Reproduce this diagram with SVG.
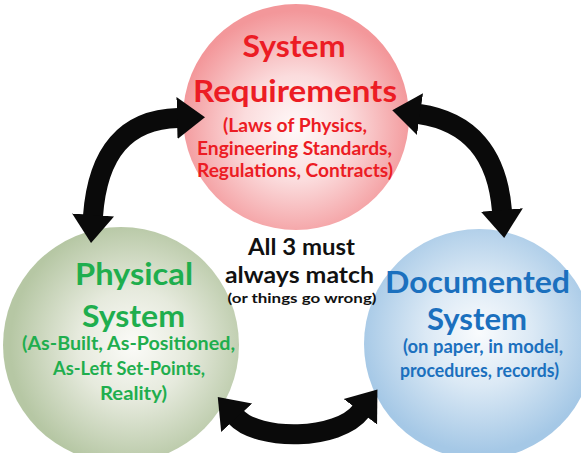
<svg xmlns="http://www.w3.org/2000/svg" width="581" height="453" viewBox="0 0 581 453">
<defs>
<radialGradient id="gRed" cx="50%" cy="55%" r="52%">
<stop offset="0" stop-color="#fefafa"/>
<stop offset="0.45" stop-color="#fbdcdd"/>
<stop offset="1" stop-color="#f3979a"/>
</radialGradient>
<radialGradient id="gGreen" cx="55%" cy="50%" r="52%">
<stop offset="0" stop-color="#fbfbf8"/>
<stop offset="0.45" stop-color="#e6eadd"/>
<stop offset="1" stop-color="#b6c7a4"/>
</radialGradient>
<radialGradient id="gBlue" cx="50%" cy="45%" r="52%">
<stop offset="0" stop-color="#f9fbfd"/>
<stop offset="0.45" stop-color="#dbe9f5"/>
<stop offset="1" stop-color="#a5c8e6"/>
</radialGradient>
<marker id="head" markerUnits="userSpaceOnUse" markerWidth="30" markerHeight="44" refX="1" refY="22" orient="auto-start-reverse" viewBox="0 0 30 44">
<path d="M0,1 L28,22 L0,43 Z" fill="#0a0a0a"/>
</marker>
</defs>
<style>
text{font-family:Lato,"Open Sans","Liberation Sans",sans-serif;font-weight:700;text-anchor:middle}
.t{font-size:31px}
.s{font-size:18px}
.red{fill:#ec1c24}
.grn{fill:#1fae4e}
.blu{fill:#1b70be}
.blk{fill:#111}
.arr{fill:none;stroke:#0a0a0a;stroke-width:20;marker-start:url(#head);marker-end:url(#head)}
</style>
<rect width="581" height="453" fill="#ffffff"/>
<g id="requirements">
<circle cx="296" cy="117" r="113" fill="url(#gRed)"/>
<text class="t red" x="294" y="57" textLength="103" lengthAdjust="spacingAndGlyphs">System</text>
<text class="t red" x="295" y="102" textLength="204" lengthAdjust="spacingAndGlyphs">Requirements</text>
<text class="s red" x="295" y="132" textLength="144" lengthAdjust="spacingAndGlyphs">(Laws of Physics,</text>
<text class="s red" x="294.5" y="155" textLength="195" lengthAdjust="spacingAndGlyphs">Engineering Standards,</text>
<text class="s red" x="295" y="177" textLength="196" lengthAdjust="spacingAndGlyphs">Regulations, Contracts)</text>
</g>
<g id="physical">
<circle cx="121" cy="345" r="118" fill="url(#gGreen)"/>
<text class="t grn" x="134" y="285" textLength="118" lengthAdjust="spacingAndGlyphs">Physical</text>
<text class="t grn" x="133.5" y="327" textLength="103" lengthAdjust="spacingAndGlyphs">System</text>
<text class="s grn" x="128.5" y="350" textLength="213" lengthAdjust="spacingAndGlyphs">(As-Built, As-Positioned,</text>
<text class="s grn" x="129" y="375" textLength="152" lengthAdjust="spacingAndGlyphs">As-Left Set-Points,</text>
<text class="s grn" x="133.5" y="400" textLength="67" lengthAdjust="spacingAndGlyphs">Reality)</text>
</g>
<g id="documented">
<circle cx="479" cy="344" r="115" fill="url(#gBlue)"/>
<text class="t blu" x="477.5" y="293" textLength="185" lengthAdjust="spacingAndGlyphs">Documented</text>
<text class="t blu" x="477" y="330" textLength="100" lengthAdjust="spacingAndGlyphs">System</text>
<text class="s blu" x="483" y="353" textLength="160" lengthAdjust="spacingAndGlyphs">(on paper, in model,</text>
<text class="s blu" x="479.5" y="377" textLength="159" lengthAdjust="spacingAndGlyphs">procedures, records)</text>
</g>
<g id="connectors">
<path class="arr" d="M93,216 Q100,120 178,118"/>
<path class="arr" d="M419,114 Q495,125 502,211"/>
<path class="arr" d="M236,417 C258,441 338,441 361,411"/>
</g>
<g id="note">
<text class="blk" x="301.5" y="255" font-size="23" textLength="107" lengthAdjust="spacingAndGlyphs">All 3 must</text>
<text class="blk" x="299.5" y="283" font-size="23" textLength="149" lengthAdjust="spacingAndGlyphs">always match</text>
<text class="blk" x="302" y="303" font-size="14" textLength="149" lengthAdjust="spacingAndGlyphs">(or things go wrong)</text>
</g>
</svg>
